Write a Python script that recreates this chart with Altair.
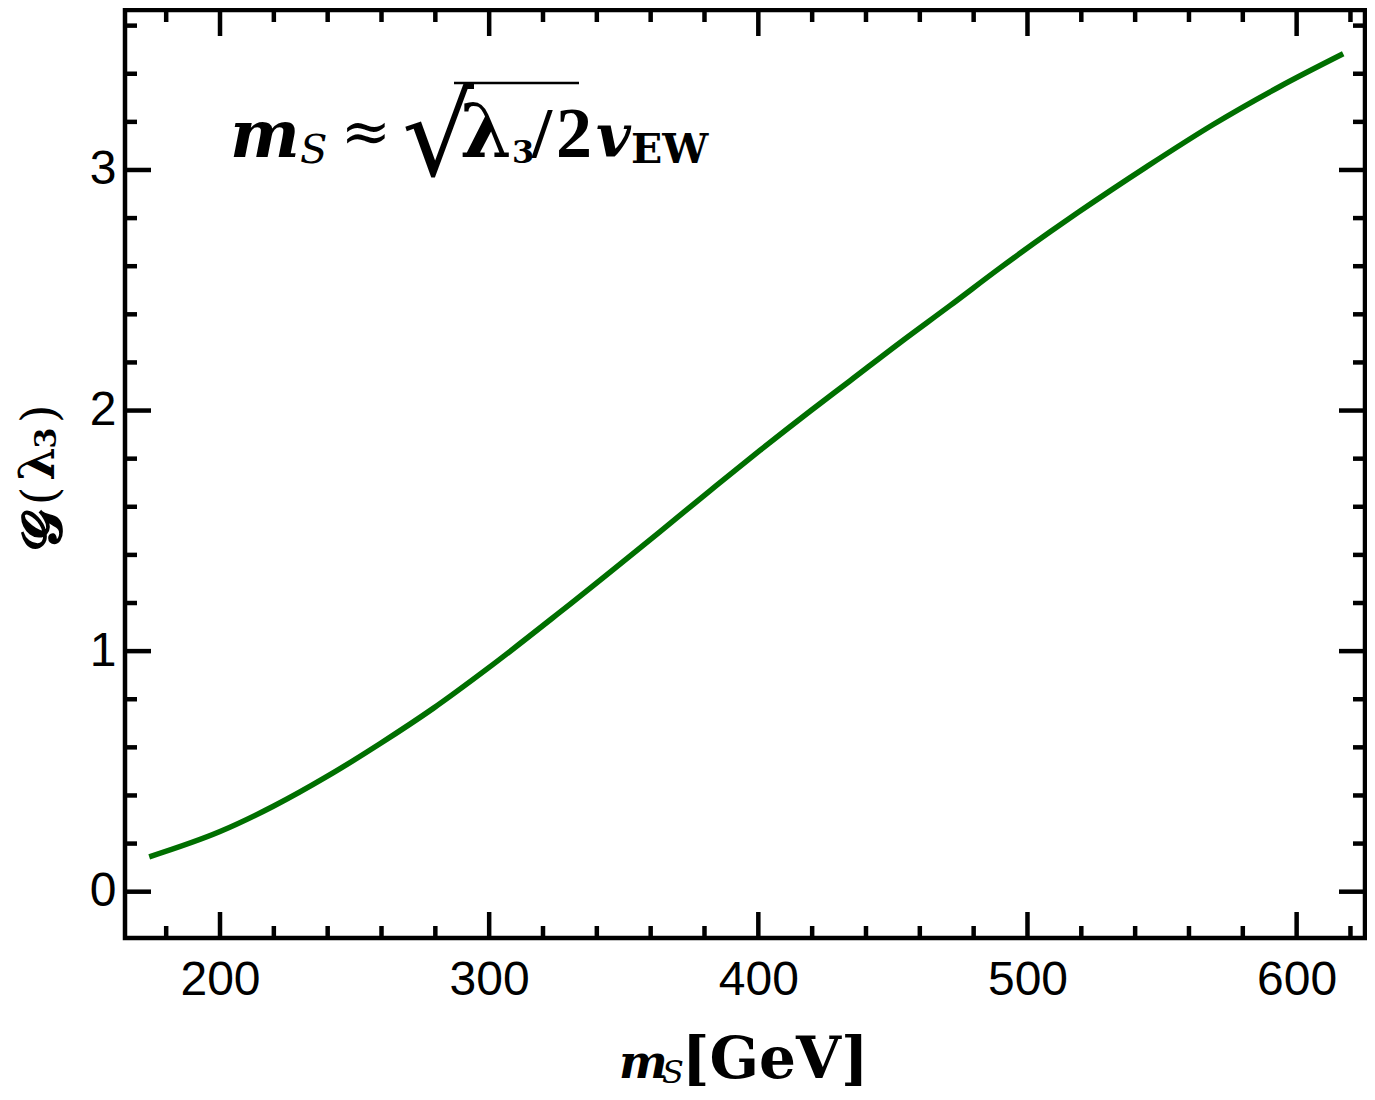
import altair as alt
import pandas as pd

# ---- data ----
m_s = [173.7, 200.0, 219.8, 239.6, 259.4, 279.2, 299.1, 326.3, 363.4, 382.0, 400.6,
       419.2, 434.0, 452.6, 471.2, 489.7, 508.3, 519.0, 544.2, 569.0, 593.8, 617.3]
g_lambda = [0.145, 0.250, 0.355, 0.478, 0.615, 0.762, 0.925, 1.162, 1.496, 1.666, 1.834,
            1.997, 2.123, 2.282, 2.436, 2.592, 2.742, 2.825, 3.013, 3.189, 3.347, 3.483]

x_major = [200, 300, 400, 500, 600]
x_minor = [180, 220, 240, 260, 280, 320, 340, 360, 380, 420, 440, 460, 480,
           520, 540, 560, 580, 620]
y_major = [0, 1, 2, 3]
y_minor = [0.2, 0.4, 0.6, 0.8, 1.2, 1.4, 1.6, 1.8, 2.2, 2.4, 2.6, 2.8, 3.2, 3.4, 3.6]

W, H = 1240, 928
MAJ, MIN = 26, 12
TICK_W = 4.5
GREEN = "#006f00"

xs = alt.Scale(domain=[164.7, 625.4], nice=False, zero=False)
ys = alt.Scale(domain=[-0.1925, 3.665], nice=False, zero=False)

x_axis = alt.Axis(values=x_major, ticks=False, tickSize=0, domain=False, grid=False,
                  labelPadding=18, labelFont="Liberation Sans", labelFontSize=48,
                  labelColor="black", title=None)
y_axis = alt.Axis(values=y_major, ticks=False, tickSize=0, domain=False, grid=False,
                  labelPadding=9, labelFont="Liberation Sans", labelFontSize=48,
                  labelColor="black", title=None)


def X():
    return alt.X("x:Q", scale=xs, axis=x_axis)


def Y():
    return alt.Y("y:Q", scale=ys, axis=y_axis)


curve_df = pd.DataFrame({"x": m_s, "y": g_lambda})
line = alt.Chart(curve_df).mark_line(color=GREEN, strokeWidth=5.5, interpolate="monotone").encode(
    x=X(), y=Y())

layers = [line]


def xticks(vals, length):
    df = pd.DataFrame({"x": vals})
    bot = alt.Chart(df).mark_rule(color="black", strokeWidth=TICK_W).encode(
        x=X(), y=alt.value(H), y2=alt.value(H - length))
    top = alt.Chart(df).mark_rule(color="black", strokeWidth=TICK_W).encode(
        x=X(), y=alt.value(0), y2=alt.value(length))
    return [bot, top]


def yticks(vals, length):
    df = pd.DataFrame({"y": vals})
    left = alt.Chart(df).mark_rule(color="black", strokeWidth=TICK_W).encode(
        y=Y(), x=alt.value(0), x2=alt.value(length))
    right = alt.Chart(df).mark_rule(color="black", strokeWidth=TICK_W).encode(
        y=Y(), x=alt.value(W), x2=alt.value(W - length))
    return [left, right]


layers += xticks(x_major, MAJ) + xticks(x_minor, MIN)
layers += yticks(y_major, MAJ) + yticks(y_minor, MIN)


def txt(s, x, y, size, font="DejaVu Serif", style="normal", weight="normal",
        align="left", baseline="alphabetic", angle=0):
    return alt.Chart(pd.DataFrame({"t": [s]})).mark_text(
        text=s, font=font, fontSize=size, fontStyle=style, fontWeight=weight,
        align=align, baseline=baseline, angle=angle, color="black"
    ).encode(x=alt.value(x), y=alt.value(y))


# annotation: m_S ≈ sqrt(λ3/2) v_EW   (plot coords: page - (125, 10))
layers += [
    txt("m", 105, 147, 66, style="italic", weight="bold"),
    txt("S", 175, 153, 40, style="italic"),
    txt("≈", 241, 142, 60, align="center"),
    txt("√", 313, 164.5, 113, font="DejaVu Sans", align="center"),
    alt.Chart(pd.DataFrame({"t": [0]})).mark_rule(color="black", strokeWidth=2.5).encode(
        x=alt.value(329), x2=alt.value(454), y=alt.value(73)),
    txt("λ", 335, 147, 74, weight="bold"),
    txt("3", 387, 153, 32, weight="bold"),
    txt("/", 407, 147, 72, font="Liberation Serif", weight="bold"),
    txt("2", 431, 147, 72, font="Liberation Serif", weight="bold"),
    txt("v", 471, 147, 60, style="italic", weight="bold"),
    txt("EW", 506, 153, 41, weight="bold"),
]

# x title: m_S[GeV]
layers += [
    txt("m", 494, 1068, 46, style="italic", weight="bold"),
    txt("S", 537, 1073, 32, style="italic"),
    txt("[GeV]", 557, 1068, 58, weight="bold"),
]

# y title: G(λ3), rotated
layers += [
    txt("𝓖", -81, 520, 56, weight="bold", align="center", baseline="middle", angle=270),
    txt("(", -83, 486, 48, align="center", baseline="middle", angle=270),
    txt("λ", -85, 454, 48, weight="bold", align="center", baseline="middle", angle=270),
    txt("3", -78, 428, 30, weight="bold", align="center", baseline="middle", angle=270),
    txt(")", -83, 404, 48, align="center", baseline="middle", angle=270),
]

chart = alt.layer(*layers).properties(
    width=W, height=H,
    autosize=alt.AutoSizeParams(type="none"),
    padding={"left": 117, "top": 2, "right": 2, "bottom": 154},
    background="white",
).configure_view(stroke="black", strokeWidth=4.5)

chart.save("out.html", embed_options={"renderer": "svg", "actions": False})
